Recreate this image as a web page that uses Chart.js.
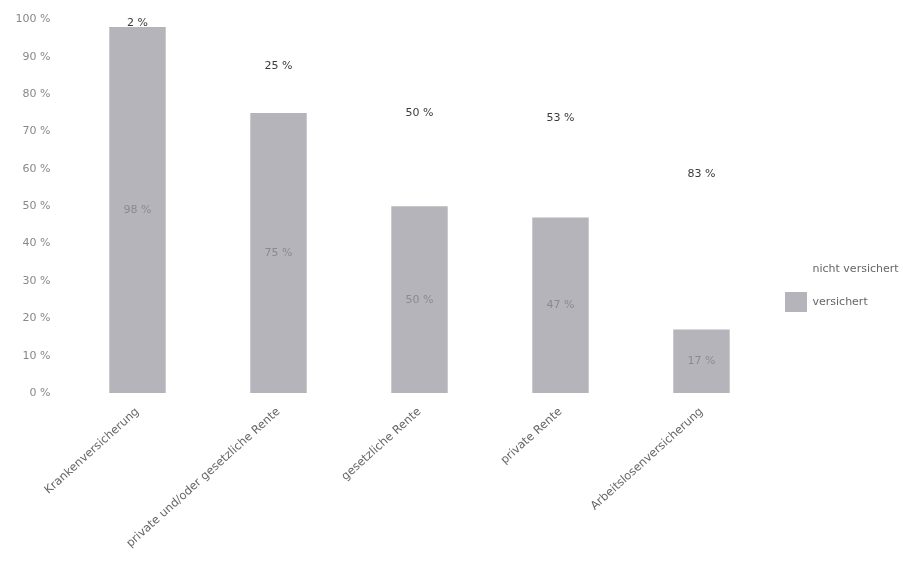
<!DOCTYPE html>
<html>
<head>
<meta charset="utf-8">
<script src="https://cdn.jsdelivr.net/npm/chart.js@4/dist/chart.umd.min.js"></script>
<style>
html,body{margin:0;padding:0;background:#fff;}
#wrap{width:903px;height:565px;position:relative;}
</style>
</head>
<body>
<div id="wrap"><canvas id="c" width="903" height="565"></canvas></div>
<script>
const categories = ["Krankenversicherung", "private und/oder gesetzliche Rente", "gesetzliche Rente", "private Rente", "Arbeitslosenversicherung"];
const versichert = [98, 75, 50, 47, 17];
const nichtVersichert = [2, 25, 50, 53, 83];
const seriesNames = ["versichert", "nicht versichert"];
const yTicks = [0, 10, 20, 30, 40, 50, 60, 70, 80, 90, 100];

const FONT = "'DejaVu Sans', sans-serif";

const labelPlugin = {
  id: 'barLabels',
  afterDatasetsDraw(chart) {
    const ctx = chart.ctx;
    ctx.save();
    ctx.font = "11px " + FONT;
    ctx.textAlign = 'center';
    ctx.textBaseline = 'middle';
    chart.data.datasets.forEach((ds, di) => {
      const meta = chart.getDatasetMeta(di);
      meta.data.forEach((bar, i) => {
        const v = ds.data[i];
        const p = bar.getProps(['x', 'y', 'base'], true);
        const cy = (p.y + p.base) / 2;
        ctx.fillStyle = di === 0 ? '#8a8a90' : '#3a3a3a';
        ctx.fillText(v + ' %', p.x, cy);
      });
    });
    ctx.restore();
  }
};

new Chart(document.getElementById('c'), {
  type: 'bar',
  data: {
    labels: categories,
    datasets: [
      { label: seriesNames[0], data: versichert, backgroundColor: '#b4b4ba', borderWidth: 0, barPercentage: 0.5, categoryPercentage: 0.8 },
      { label: seriesNames[1], data: nichtVersichert, backgroundColor: '#ffffff', borderWidth: 0, barPercentage: 0.5, categoryPercentage: 0.8 }
    ]
  },
  options: {
    responsive: false,
    animation: false,
    devicePixelRatio: 1,
    layout: { padding: { top: 6, right: 0, bottom: 0, left: 0 } },
    plugins: {
      legend: {
        position: 'right',
        reverse: true,
        maxWidth: 131,
        labels: {
          boxWidth: 22,
          boxHeight: 20,
          padding: 13,
          color: '#666',
          font: { family: FONT, size: 11 }
        }
      },
      tooltip: { enabled: false }
    },
    scales: {
      x: {
        stacked: true,
        grid: { display: false, drawTicks: false },
        border: { display: false },
        ticks: {
          color: '#666',
          font: { family: FONT, size: 11.5 },
          maxRotation: 42,
          minRotation: 42,
          padding: 12,
          autoSkip: false
        },
        afterFit(scale) { scale.height = 172; }
      },
      y: {
        stacked: true,
        min: 0,
        max: 100,
        grid: { display: false, drawTicks: false },
        border: { display: false },
        afterBuildTicks(scale) { scale.ticks = yTicks.map(v => ({ value: v })); },
        ticks: {
          color: '#888',
          font: { family: FONT, size: 11 },
          padding: 13,
          callback: (v) => v + ' % '
        },
        afterFit(scale) { scale.width = 67; }
      }
    }
  },
  plugins: [labelPlugin]
});
</script>
</body>
</html>
